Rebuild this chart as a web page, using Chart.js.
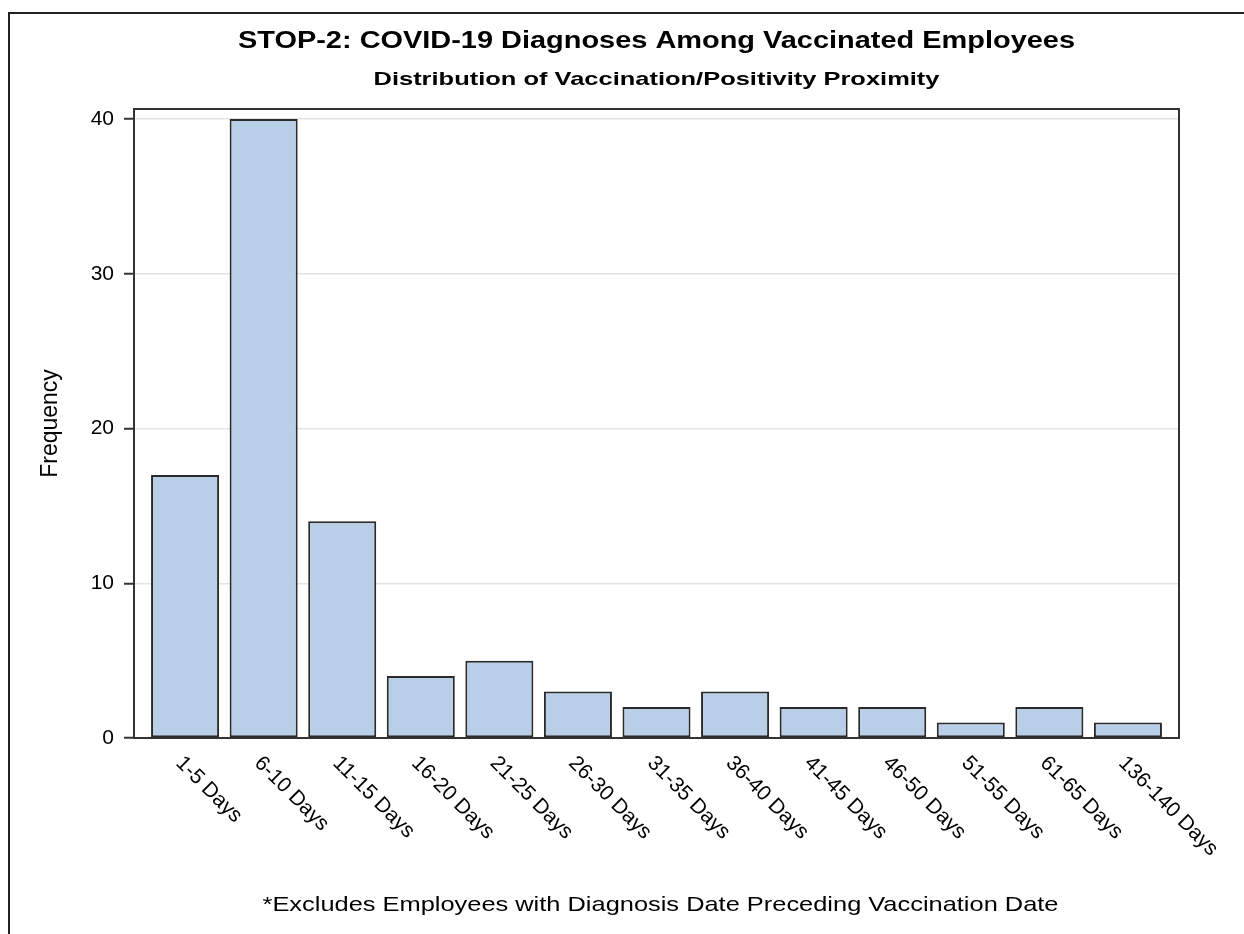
<!DOCTYPE html>
<html>
<head>
<meta charset="utf-8">
<script src="https://cdn.jsdelivr.net/npm/chart.js@4.4.1/dist/chart.umd.min.js"></script>
<style>
  html, body { margin: 0; padding: 0; background: #fff; }
  #wrap { width: 1244px; height: 934px; }
</style>
</head>
<body>
<div id="wrap"><canvas id="histChart" width="1244" height="934"></canvas></div>
<script>
const categories = [
    '1-5 Days', '6-10 Days', '11-15 Days', '16-20 Days', '21-25 Days',
    '26-30 Days', '31-35 Days', '36-40 Days', '41-45 Days', '46-50 Days',
    '51-55 Days', '61-65 Days', '136-140 Days'
];
const frequency = [17, 40, 14, 4, 5, 3, 2, 3, 2, 2, 1, 2, 1];
const yTicks = [0, 10, 20, 30, 40];

const titleText = 'STOP-2: COVID-19 Diagnoses Among Vaccinated Employees';
const subtitleText = 'Distribution of Vaccination/Positivity Proximity';
const footnoteText = '*Excludes Employees with Diagnosis Date Preceding Vaccination Date';

const FONT = '"Liberation Sans", Arial, sans-serif';

// text in the reference is a bit wider than plain Arial, so stretch to width
function stretchedText(ctx, text, cx, baseline, font, width) {
    ctx.save();
    ctx.font = font;
    const w = ctx.measureText(text).width;
    ctx.translate(cx, baseline);
    ctx.scale(width / w, 1);
    ctx.textAlign = 'center';
    ctx.textBaseline = 'alphabetic';
    ctx.fillStyle = '#000';
    ctx.fillText(text, 0, 0);
    ctx.restore();
}

const decorations = {
    id: 'decorations',
    beforeDraw(chart) {
        const ctx = chart.ctx;
        ctx.save();
        ctx.fillStyle = '#fff';
        ctx.fillRect(0, 0, chart.width, chart.height);
        // outer frame of the graph
        ctx.strokeStyle = '#222';
        ctx.lineWidth = 2;
        ctx.beginPath();
        ctx.moveTo(9, chart.height + 5);
        ctx.lineTo(9, 13);
        ctx.lineTo(chart.width + 5, 13);
        ctx.stroke();
        ctx.restore();
    },
    afterDatasetsDraw(chart) {
        const ctx = chart.ctx;
        const a = chart.chartArea;
        ctx.save();
        ctx.strokeStyle = '#333';
        ctx.lineWidth = 2;
        ctx.strokeRect(a.left, a.top, a.right - a.left, a.bottom - a.top);
        ctx.restore();
    },
    afterDraw(chart) {
        const ctx = chart.ctx;
        const a = chart.chartArea;
        const cx = (a.left + a.right) / 2;
        stretchedText(ctx, titleText, cx, 48, 'bold 23px ' + FONT, 837);
        stretchedText(ctx, subtitleText, cx, 85, 'bold 19px ' + FONT, 566);
        stretchedText(ctx, footnoteText, cx + 4, 911, '21px ' + FONT, 796);

        // rotated category labels, reading down to the right
        const xs = chart.scales.x;
        ctx.save();
        ctx.font = '21px ' + FONT;
        ctx.fillStyle = '#000';
        ctx.textAlign = 'left';
        ctx.textBaseline = 'middle';
        categories.forEach((c, i) => {
            const x = xs.getPixelForValue(i);
            ctx.save();
            ctx.translate(x - 6, a.bottom + 22);
            ctx.rotate(Math.PI / 4);
            ctx.fillText(c, 0, 0);
            ctx.restore();
        });
        ctx.restore();
    }
};

new Chart(document.getElementById('histChart'), {
    type: 'bar',
    data: {
        datasets: [{
            label: 'Frequency',
            data: frequency.map((v, i) => ({ x: i, y: v })),
            backgroundColor: '#B9CFE7',
            borderColor: '#2a2a2a',
            borderWidth: 2,
            borderSkipped: false,
            categoryPercentage: 1,
            barPercentage: 0.866
        }]
    },
    options: {
        responsive: false,
        animation: false,
        layout: {
            padding: { left: 37, right: 65, top: 109, bottom: 196 }
        },
        plugins: {
            legend: { display: false },
            tooltip: { enabled: false }
        },
        scales: {
            x: {
                type: 'linear',
                offset: false,
                min: -0.65,
                max: 12.65,
                grid: { display: false, offset: false },
                border: { display: false },
                ticks: { display: false },
                afterFit: s => { s.height = 0; }
            },
            y: {
                min: 0,
                max: 40.65,
                afterBuildTicks: s => { s.ticks = yTicks.map(v => ({ value: v })); },
                afterFit: s => { s.width = 97; },
                border: { display: false },
                grid: {
                    color: '#e3e3e3',
                    lineWidth: 1.5,
                    tickColor: '#333',
                    tickLength: 10,
                    tickWidth: 2
                },
                ticks: {
                    color: '#000',
                    padding: 10,
                    font: { family: FONT, size: 21 }
                },
                title: {
                    display: true,
                    text: 'Frequency',
                    color: '#000',
                    padding: 0,
                    font: { family: FONT, size: 23 }
                }
            }
        }
    },
    plugins: [decorations]
});
</script>
</body>
</html>
